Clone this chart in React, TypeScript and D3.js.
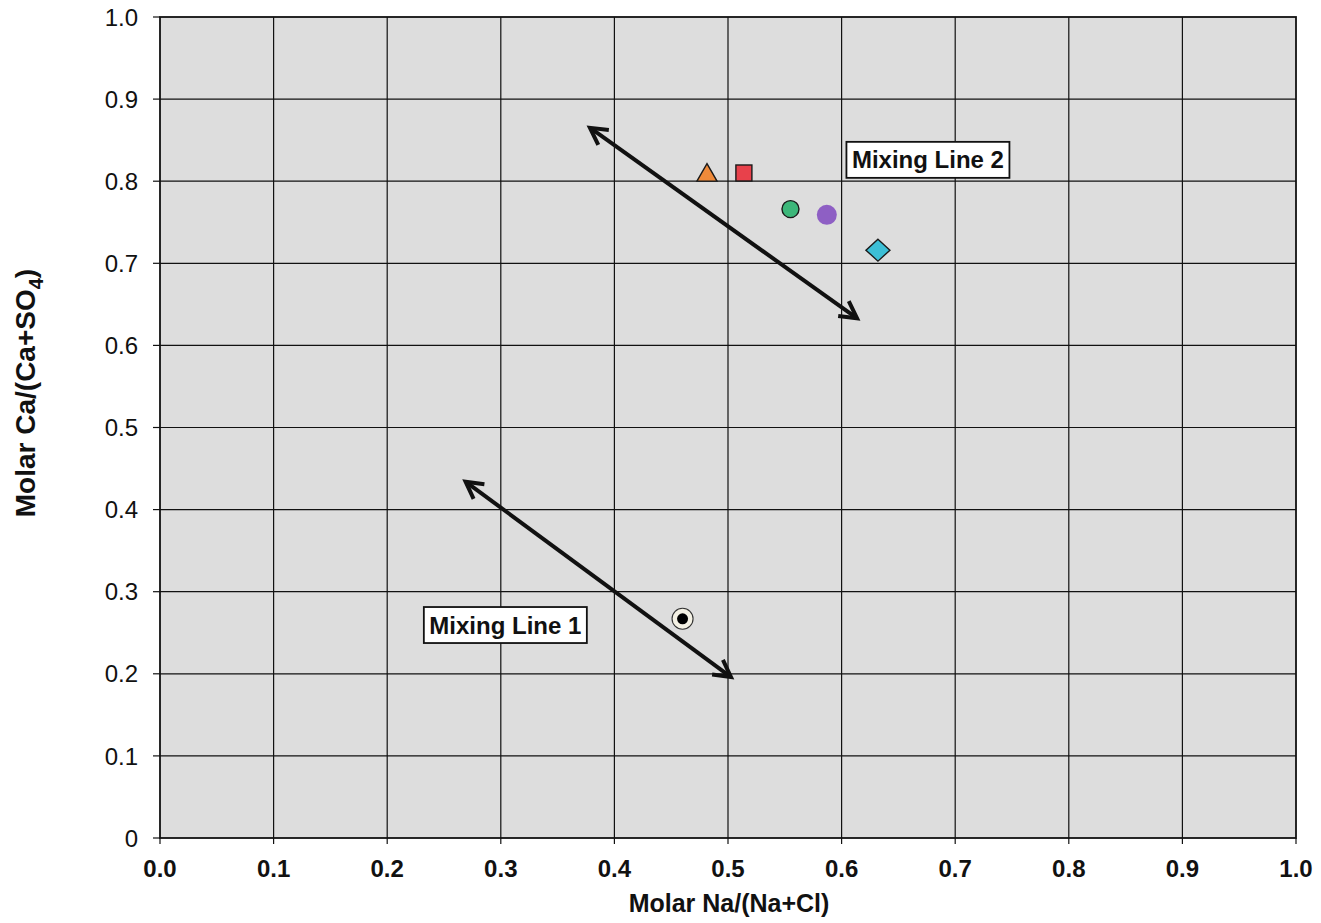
import React from "react";
import * as d3 from "d3";

const xTicks = [0, 0.1, 0.2, 0.3, 0.4, 0.5, 0.6, 0.7, 0.8, 0.9, 1.0];
const yTicks = [0, 0.1, 0.2, 0.3, 0.4, 0.5, 0.6, 0.7, 0.8, 0.9, 1.0];
const yTickLabels = ["0", "0.1", "0.2", "0.3", "0.4", "0.5", "0.6", "0.7", "0.8", "0.9", "1.0"];

const sampleNames = ["triangle", "square", "circleGreen", "circlePurple", "diamond", "dotRing"];
const sampleX = [0.4815, 0.514, 0.555, 0.587, 0.632, 0.46];
const sampleY = [0.806, 0.81, 0.766, 0.759, 0.716, 0.267];

const arrowNames = ["Mixing Line 2", "Mixing Line 1"];
const arrowX1 = [0.3785, 0.269];
const arrowY1 = [0.865, 0.434];
const arrowX2 = [0.6136, 0.5026];
const arrowY2 = [0.633, 0.196];

const labelText = ["Mixing Line 2", "Mixing Line 1"];
const labelX = [0.676, 0.304];
const labelY = [0.826, 0.2594];

export default function App() {
  const W = 1321, H = 923;
  const left = 160, right = 1296, top = 17, bottom = 838;
  const x = d3.scaleLinear().domain([0, 1]).range([left, right]);
  const y = d3.scaleLinear().domain([0, 1]).range([bottom, top]);
  const font = "Arial, 'Liberation Sans', Helvetica, sans-serif";
  const fs = 24;

  const marker = (name: string, cx: number, cy: number, i: number) => {
    const s = "#1a1a1a";
    switch (name) {
      case "triangle": {
        const p = d3.symbol().type(d3.symbolTriangle).size(175)();
        return <path key={i} d={p!} transform={`translate(${cx},${cy - 1})`} fill="#ef8a3a" stroke={s} strokeWidth={1.4} />;
      }
      case "square":
        return <rect key={i} x={cx - 8} y={cy - 8} width={16} height={16} fill="#e8414b" stroke={s} strokeWidth={1.4} />;
      case "circleGreen":
        return <circle key={i} cx={cx} cy={cy} r={8.5} fill="#3db77a" stroke={s} strokeWidth={1.4} />;
      case "circlePurple":
        return <circle key={i} cx={cx} cy={cy} r={10} fill="#8e5fc4" stroke="none" />;
      case "diamond":
        return (
          <path key={i} d={`M${cx},${cy - 11} L${cx + 12},${cy} L${cx},${cy + 11} L${cx - 12},${cy} Z`}
            fill="#3cbfd6" stroke={s} strokeWidth={1.4} />
        );
      default:
        return (
          <g key={i}>
            <circle cx={cx} cy={cy} r={10.5} fill="#f4f1e4" stroke="#333" strokeWidth={1.1} />
            <circle cx={cx} cy={cy} r={5.5} fill="#000" />
          </g>
        );
    }
  };

  const arrowHead = (px: number, py: number, ang: number, key: string) => {
    const len = 19, spread = 0.5;
    const a1 = ang + Math.PI - spread, a2 = ang + Math.PI + spread;
    return (
      <path key={key}
        d={`M${px + len * Math.cos(a1)},${py + len * Math.sin(a1)} L${px},${py} L${px + len * Math.cos(a2)},${py + len * Math.sin(a2)}`}
        fill="none" stroke="#111" strokeWidth={4} strokeLinejoin="miter" strokeLinecap="butt" />
    );
  };

  return (
    <svg width={W} height={H} style={{ display: "block", position: "absolute", left: 0, top: 0 }}>
      <rect x={0} y={0} width={W} height={H} fill="#fff" />
      <rect x={left} y={top} width={right - left} height={bottom - top} fill="#dddddd" />
      {xTicks.slice(1, -1).map((t, i) => (
        <line key={"gx" + i} x1={x(t)} x2={x(t)} y1={top} y2={bottom} stroke="#111" strokeWidth={1.2} />
      ))}
      {yTicks.slice(1, -1).map((t, i) => (
        <line key={"gy" + i} x1={left} x2={right} y1={y(t)} y2={y(t)} stroke="#111" strokeWidth={1.2} />
      ))}
      <rect x={left} y={top} width={right - left} height={bottom - top} fill="none" stroke="#111" strokeWidth={1.8} />
      {yTicks.map((t, i) => (
        <g key={"yt" + i}>
          <line x1={left - 7} x2={left} y1={y(t)} y2={y(t)} stroke="#111" strokeWidth={1.2} />
          <text x={left - 22} y={y(t)} dy="0.36em" textAnchor="end" fontFamily={font} fontSize={fs} fill="#111">{yTickLabels[i]}</text>
        </g>
      ))}
      {xTicks.map((t, i) => (
        <g key={"xt" + i}>
          <line x1={x(t)} x2={x(t)} y1={bottom} y2={bottom + 6} stroke="#111" strokeWidth={1.2} />
          <text x={x(t)} y={877} textAnchor="middle" fontFamily={font} fontSize={fs} fontWeight="bold" fill="#111">{t.toFixed(1)}</text>
        </g>
      ))}
      <text x={729} y={912} textAnchor="middle" fontFamily={font} fontSize={25} fontWeight="bold" fill="#111">Molar Na/(Na+Cl)</text>
      <text transform={`translate(35,393) rotate(-90)`} textAnchor="middle" fontFamily={font} fontSize={28} fontWeight="bold" fill="#111">
        Molar Ca/(Ca+SO<tspan fontSize={20} dy={8}>4</tspan><tspan dy={-8}>)</tspan>
      </text>

      {arrowNames.map((n, i) => {
        const x1 = x(arrowX1[i]), y1 = y(arrowY1[i]), x2 = x(arrowX2[i]), y2 = y(arrowY2[i]);
        const ang = Math.atan2(y2 - y1, x2 - x1);
        return (
          <g key={"ar" + i}>
            <line x1={x1 + 2 * Math.cos(ang)} y1={y1 + 2 * Math.sin(ang)} x2={x2 - 2 * Math.cos(ang)} y2={y2 - 2 * Math.sin(ang)} stroke="#111" strokeWidth={4} />
            {arrowHead(x2, y2, ang, "h2")}
            {arrowHead(x1, y1, ang + Math.PI, "h1")}
          </g>
        );
      })}

      {sampleNames.map((n, i) => marker(n, x(sampleX[i]), y(sampleY[i]), i))}

      {labelText.map((t, i) => {
        const bx = x(labelX[i]), by = y(labelY[i]);
        return (
          <g key={"lb" + i}>
            <rect x={bx - 81.5} y={by - 18} width={163} height={36} fill="#fff" stroke="#111" strokeWidth={1.8} />
            <text x={bx} y={by} dy="0.36em" textAnchor="middle" fontFamily={font} fontSize={fs} fontWeight="bold" fill="#111">{t}</text>
          </g>
        );
      })}
    </svg>
  );
}
